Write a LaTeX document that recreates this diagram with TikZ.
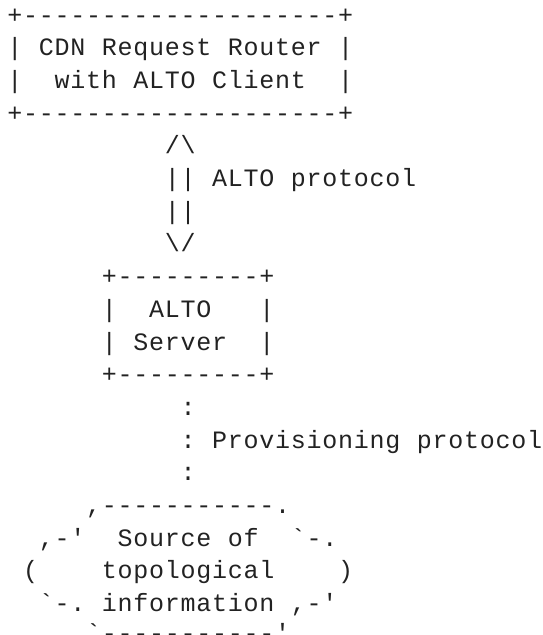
\documentclass[tikz,border=0pt]{standalone}
\usepackage{fontspec}
\newfontfamily\asciifont{Liberation Mono}
\definecolor{ink}{HTML}{222222}
\newdimen\chw \chw=15.75pt
\ExplSyntaxOn
\cs_new_protected:Npn \asc #1
 {
  \str_map_inline:nn {#1}
   {
    \str_if_eq:nnTF {##1} {@}
     { \hbox_to_wd:nn {\chw} {} }
     {
      \str_if_eq:nnTF {##1} {!}
       { \hbox_to_wd:nn {\chw} { \hfil \textbackslash \hfil } }
       { \hbox_to_wd:nn {\chw} { \hfil ##1 \hfil } }
     }
   }
 }
\ExplSyntaxOff
\tikzset{
  asciiline/.style={anchor=base west, inner sep=0pt, outer sep=0pt, text=ink,
    font=\asciifont\fontsize{25pt}{30pt}\selectfont}
}
\newcommand\cx[1]{7.1+15.75*#1}
\newcommand\ry[1]{-23-32.7*(#1-1)}
\begin{document}
\begin{tikzpicture}[x=1pt,y=1pt]
\useasboundingbox (0,0) rectangle (542,-635);
\node[asciiline] (l1)  at ({\cx{0}},{\ry{1}})  {\asc{+--------------------+}};
\node[asciiline] (l2)  at ({\cx{0}},{\ry{2}})  {\asc{|@CDN@Request@Router@|}};
\node[asciiline] (l3)  at ({\cx{0}},{\ry{3}})  {\asc{|@@with@ALTO@Client@@|}};
\node[asciiline] (l4)  at ({\cx{0}},{\ry{4}})  {\asc{+--------------------+}};
\node[asciiline] (l5)  at ({\cx{10}},{\ry{5}}) {\asc{/!}};
\node[asciiline] (l6)  at ({\cx{10}},{\ry{6}}) {\asc{||@ALTO@protocol}};
\node[asciiline] (l7)  at ({\cx{10}},{\ry{7}}) {\asc{||}};
\node[asciiline] (l8)  at ({\cx{10}},{\ry{8}}) {\asc{!/}};
\node[asciiline] (l9)  at ({\cx{6}},{\ry{9}})  {\asc{+---------+}};
\node[asciiline] (l10) at ({\cx{6}},{\ry{10}}) {\asc{|@@ALTO@@@|}};
\node[asciiline] (l11) at ({\cx{6}},{\ry{11}}) {\asc{|@Server@@|}};
\node[asciiline] (l12) at ({\cx{6}},{\ry{12}}) {\asc{+---------+}};
\node[asciiline] (l13) at ({\cx{11}},{\ry{13}}) {\asc{:}};
\node[asciiline] (l14) at ({\cx{11}},{\ry{14}}) {\asc{:@Provisioning@protocol}};
\node[asciiline] (l15) at ({\cx{11}},{\ry{15}}) {\asc{:}};
\node[asciiline] (l16) at ({\cx{5}},{\ry{16}})  {\asc{,-----------.}};
\node[asciiline] (l17) at ({\cx{2}},{\ry{17}})  {\asc{,-'@@Source@of@@`-.}};
\node[asciiline] (l18) at ({\cx{1}},{\ry{18}})  {\asc{(@@@@topological@@@@)}};
\node[asciiline] (l19) at ({\cx{2}},{\ry{19}})  {\asc{`-.@information@,-'}};
\node[asciiline] (l20) at ({\cx{5}},-641.5)     {\asc{`-----------'}};
\end{tikzpicture}
\end{document}
